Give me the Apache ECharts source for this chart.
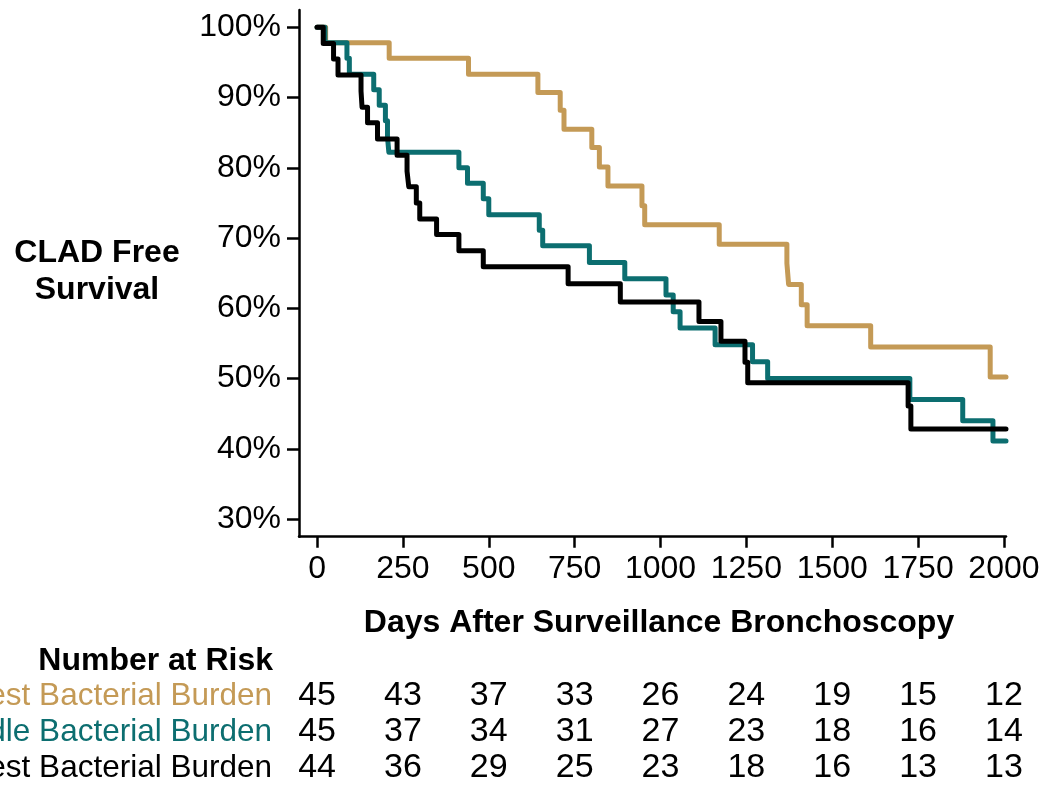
<!DOCTYPE html>
<html>
<head>
<meta charset="utf-8">
<title>CLAD Free Survival</title>
<script src="https://cdn.jsdelivr.net/npm/echarts@6/dist/echarts.min.js"></script>
<style>
  html, body { margin: 0; padding: 0; background: #fff; }
  #chart { width: 1044px; height: 786px; }
</style>
</head>
<body>
<div id="chart"></div>
<script>
// Kaplan-Meier steps: [day, survival %] at each drop, last point closes the curve
const lowestBurden = [
  [0, 100], [25, 97.8], [210, 95.6], [441, 93.3], [643, 90.7], [708, 88.2],
  [719, 85.5], [800, 82.9], [822, 80.1], [847, 77.4], [946, 74.6], [954, 71.9],
  [1171, 69.1], [1368, 66.4], [1373, 63.4], [1410, 60.5], [1427, 57.5],
  [1612, 54.5], [1960, 50.2], [2006, 50.2]
];
const middleBurden = [
  [0, 100], [23, 97.8], [87, 95.6], [94, 93.3], [165, 91.1], [181, 88.9],
  [199, 86.7], [205, 84.4], [209, 82.2], [413, 80.0], [438, 77.8], [484, 75.6],
  [500, 73.3], [647, 71.1], [657, 68.9], [793, 66.5], [896, 64.2], [1016, 61.9],
  [1037, 59.5], [1057, 57.2], [1159, 54.8], [1268, 52.4], [1312, 50.0],
  [1726, 47.0], [1880, 44.0], [1968, 41.1], [2006, 41.1]
];
const highestBurden = [
  [0, 100], [18, 97.7], [48, 95.5], [61, 93.2], [128, 90.9], [131, 88.6],
  [147, 86.4], [176, 84.1], [233, 81.8], [262, 79.5], [267, 77.3], [289, 75.0],
  [299, 72.7], [348, 70.5], [413, 68.2], [484, 65.9], [731, 63.5], [883, 60.9],
  [1112, 58.1], [1176, 55.3], [1246, 52.3], [1254, 49.4], [1721, 46.1],
  [1729, 42.8], [2006, 42.8]
];

const groupNames = ['Lowest Bacterial Burden', 'Middle Bacterial Burden', 'Highest Bacterial Burden'];
const groupColors = ['#C49A56', '#0C6E70', '#000000'];

const riskDays = [0, 250, 500, 750, 1000, 1250, 1500, 1750, 2000];
const riskLowest = [45, 43, 37, 33, 26, 24, 19, 15, 12];
const riskMiddle = [45, 37, 34, 31, 27, 23, 18, 16, 14];
const riskHighest = [44, 36, 29, 25, 23, 18, 16, 13, 13];

const xTicks = [0, 250, 500, 750, 1000, 1250, 1500, 1750, 2000];
const yTicks = [30, 40, 50, 60, 70, 80, 90, 100];

const FONT = '"Liberation Sans", Arial, Helvetica, sans-serif';
const X_MIN = -52.6, X_MAX = 2006;

const riskRows = [riskLowest, riskMiddle, riskHighest];
const riskPoints = [];
riskRows.forEach((row, r) => {
  row.forEach((n, i) => riskPoints.push([riskDays[i], groupNames[r], n]));
});

const chart = echarts.init(document.getElementById('chart'), null, { renderer: 'canvas' });

const curve = (data, color, z) => ({
  type: 'line',
  step: 'end',
  data: data,
  xAxisIndex: 0,
  yAxisIndex: 0,
  showSymbol: false,
  symbol: 'none',
  lineStyle: { color: color, width: 5, cap: 'round', join: 'round' },
  z: z,
  animation: false
});

chart.setOption({
  animation: false,
  backgroundColor: '#ffffff',
  textStyle: { fontFamily: FONT },
  grid: [
    { left: 299, right: 38, top: 10, bottom: 249.3, containLabel: false, outerBoundsMode: 'none' },
    { left: 299, right: 38, top: 678, height: 108, containLabel: false, outerBoundsMode: 'none' }
  ],
  xAxis: [
    {
      type: 'value', gridIndex: 0, min: X_MIN, max: X_MAX,
      splitLine: { show: false },
      axisLine: { show: true, onZero: false, lineStyle: { color: '#000', width: 2.5 } },
      axisTick: { show: true, customValues: xTicks, length: 11, inside: false, lineStyle: { color: '#000', width: 2.5 } },
      axisLabel: {
        customValues: xTicks, margin: 16, fontSize: 32, color: '#000', fontFamily: FONT,
        formatter: v => String(v)
      }
    },
    {
      type: 'value', gridIndex: 1, min: X_MIN, max: X_MAX,
      show: false, splitLine: { show: false }
    }
  ],
  yAxis: [
    {
      type: 'value', gridIndex: 0, min: 27.48, max: 102.46,
      splitLine: { show: false },
      axisLine: { show: true, onZero: false, lineStyle: { color: '#000', width: 2.5 } },
      axisTick: { show: true, customValues: yTicks, length: 12, lineStyle: { color: '#000', width: 2.5 } },
      axisLabel: {
        customValues: yTicks, margin: 18, fontSize: 32, color: '#000', fontFamily: FONT,
        formatter: v => v + '%'
      }
    },
    {
      type: 'category', gridIndex: 1, data: groupNames, inverse: true,
      axisLine: { show: false }, axisTick: { show: false }, splitLine: { show: false },
      axisLabel: {
        interval: 0, hideOverlap: false, margin: 27, fontSize: 31.5, fontFamily: FONT,
        color: (value, index) => groupColors[groupNames.indexOf(value)]
      }
    }
  ],
  graphic: [
    {
      type: 'text', silent: true, x: 97, y: 272,
      style: {
        text: 'CLAD Free\nSurvival', align: 'center', verticalAlign: 'middle',
        font: 'bold 32px ' + FONT, fill: '#000', lineHeight: 37
      }
    },
    {
      type: 'text', silent: true, x: 659, y: 623,
      style: {
        text: 'Days After Surveillance Bronchoscopy', align: 'center', verticalAlign: 'middle',
        font: 'bold 32px ' + FONT, fill: '#000'
      }
    },
    {
      type: 'text', silent: true, x: 273, y: 661,
      style: {
        text: 'Number at Risk', align: 'right', verticalAlign: 'middle',
        font: 'bold 32px ' + FONT, fill: '#000'
      }
    }
  ],
  series: [
    curve(lowestBurden, groupColors[0], 2),
    curve(middleBurden, groupColors[1], 3),
    curve(highestBurden, groupColors[2], 4),
    {
      type: 'scatter',
      xAxisIndex: 1,
      yAxisIndex: 1,
      data: riskPoints,
      symbolSize: 0,
      itemStyle: { opacity: 1 },
      label: {
        show: true, position: 'inside', fontSize: 34, color: '#000', fontFamily: FONT,
        opacity: 1, textBorderWidth: 0, formatter: p => String(p.data[2])
      },
      emphasis: { disabled: true },
      animation: false
    }
  ]
});
</script>
</body>
</html>
